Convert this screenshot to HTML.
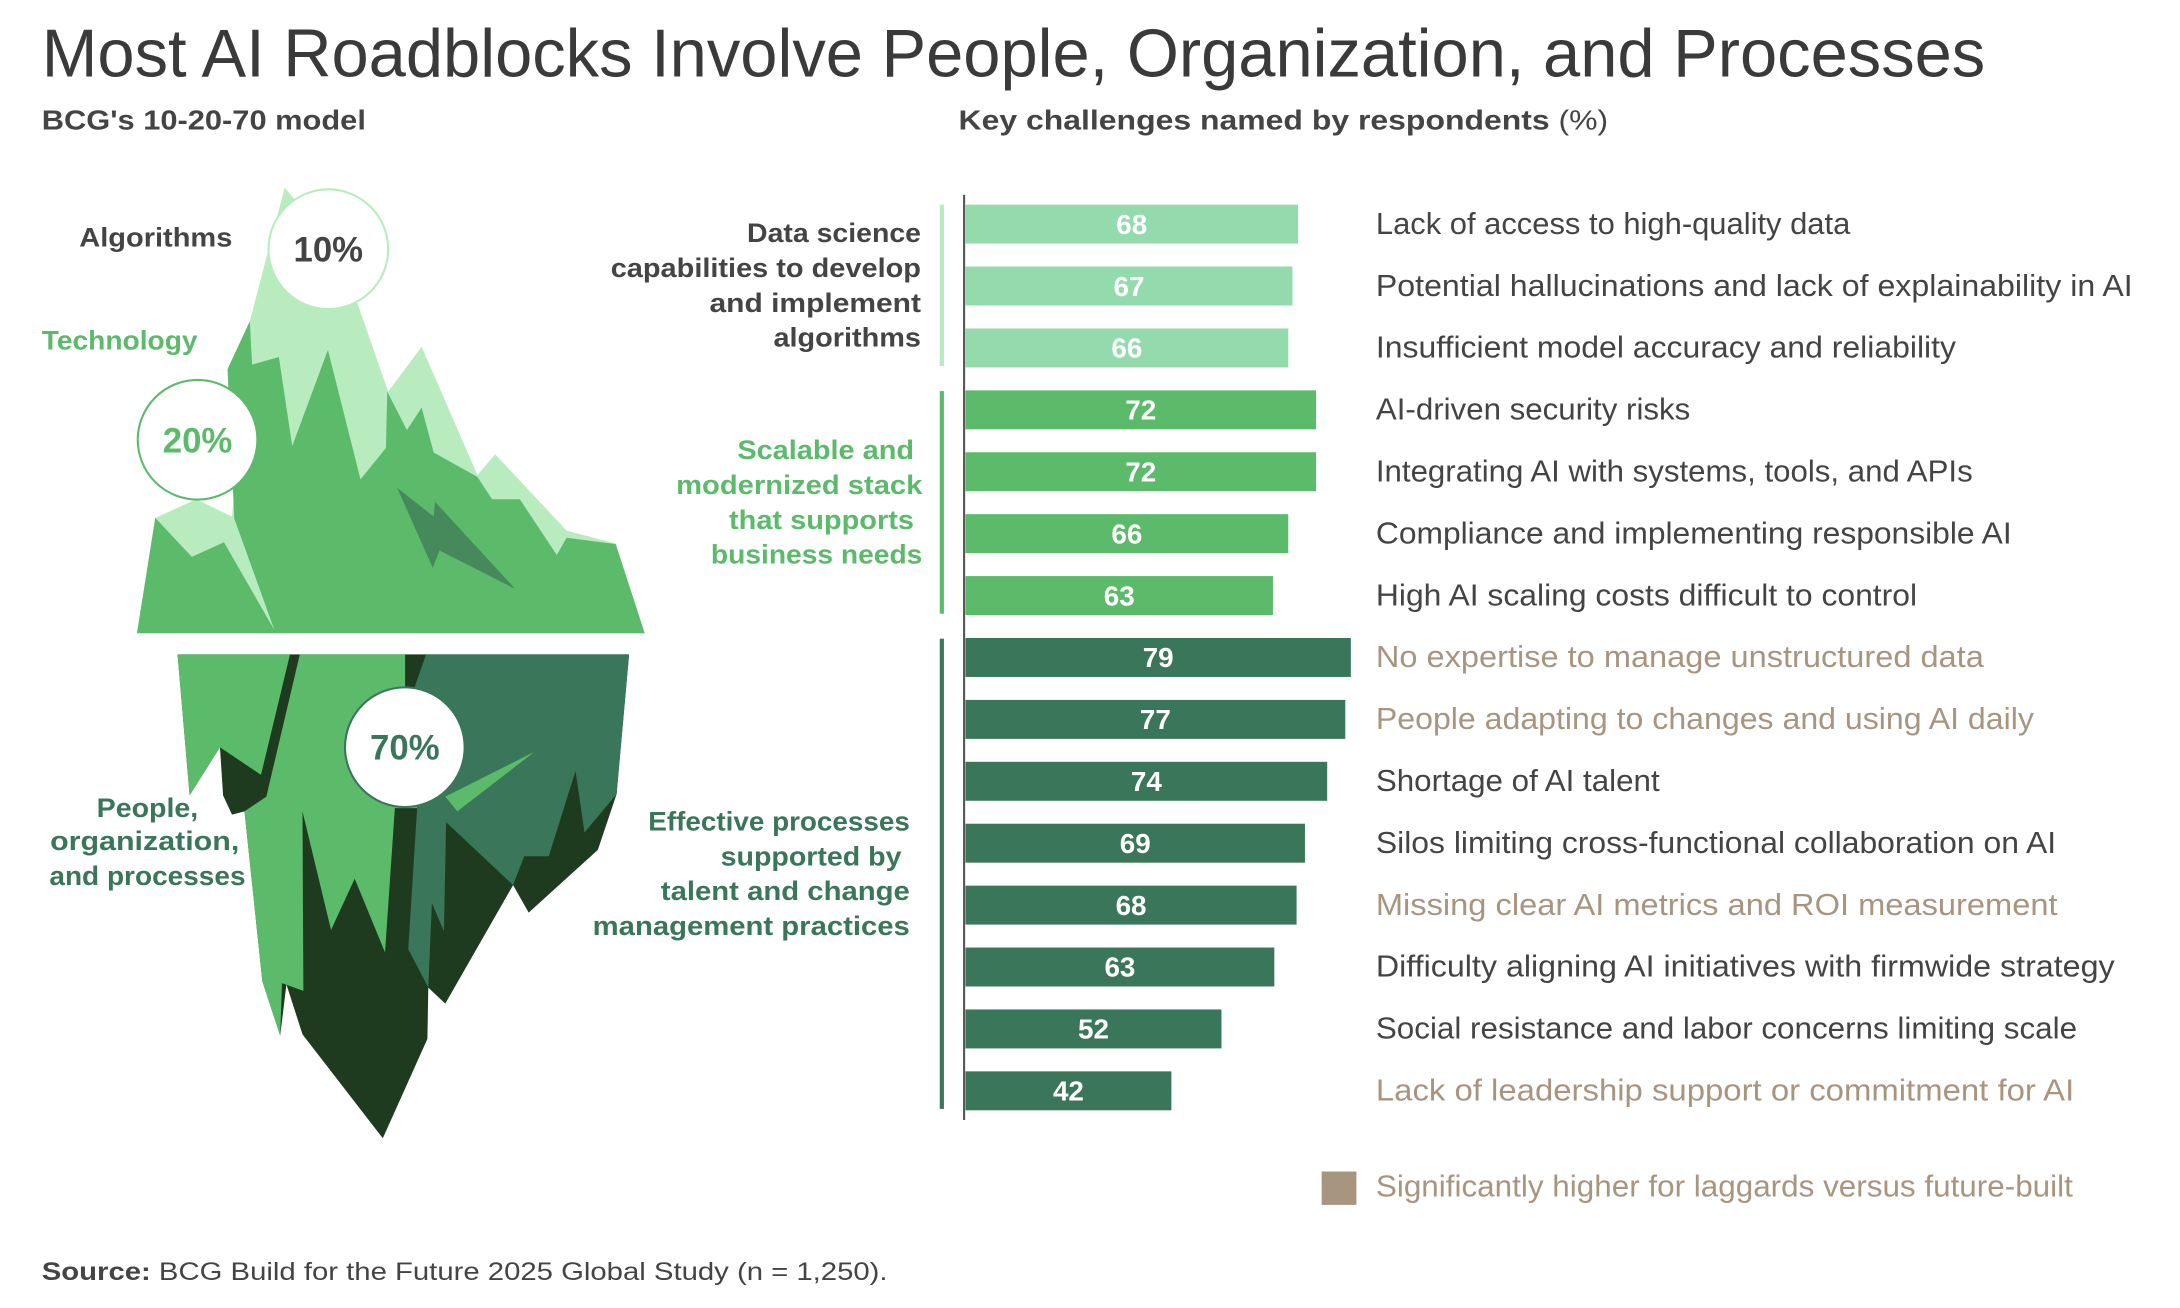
<!DOCTYPE html>
<html><head><meta charset="utf-8"><style>html,body{margin:0;padding:0;background:#fff}svg{display:block}</style></head><body>
<svg width="2180" height="1308" viewBox="0 0 1567 940" xmlns="http://www.w3.org/2000/svg" font-family="Liberation Sans, sans-serif">
<rect width="1567" height="940" fill="#fff"/>
<text x="30" y="55" font-size="49" fill="#3a3a3a" textLength="1397" lengthAdjust="spacingAndGlyphs">Most AI Roadblocks Involve People, Organization, and Processes</text>
<text x="30" y="93" font-size="20" font-weight="bold" fill="#444" textLength="233" lengthAdjust="spacingAndGlyphs">BCG's 10-20-70 model</text>
<text x="689" y="93" font-size="20" font-weight="bold" fill="#444" textLength="467" lengthAdjust="spacingAndGlyphs">Key challenges named by respondents <tspan font-weight="normal">(%)</tspan></text>

<!-- iceberg -->
<g transform="matrix(0.3207,0,0,0.4607,0,106.3)">
<polygon fill="#b8ecbe" points="348,577 440,548 520,575 560,270 638,62 660,80 800,240 870,380 945,310 1070,510 1110,478 1270,597 1380,617 1445,757 307,757"/>
<polygon fill="#5cba6b" points="307,757 348,577 430,638 502,615 615,752 525,578 510,345 560,270 565,338 625,326 655,465 735,315 808,517 865,468 868,380 912,440 945,405 972,475 1070,513 1103,548 1165,548 1248,635 1270,608 1380,618 1445,757"/>
<polygon fill="#46895a" points="890,530 972,575 975,552 1155,688 985,628 970,655"/>
<polygon fill="#1e3b20" points="398,790 1410,790 1382,1008 1340,1095 1185,1193 1150,1150 998,1335 960,1310 958,1390 858,1545 678,1383 642,1305 628,1385 588,1300 548,1035 520,1040 500,1010 493,935 425,1010"/>
<polygon fill="#5cba6b" points="398,790 650,790 585,978 493,935 425,1010"/>
<polygon fill="#5cba6b" points="672,790 908,790 908,838 935,1030 885,1030 863,1255 795,1140 742,1220 678,1035 680,1315 632,1303 628,1385 588,1300 548,1035 597,1012"/>
<polygon fill="#3a7659" points="955,790 1410,790 1382,1008 1310,1068 1290,972 1230,1105 1175,1105 1150,1150 1000,1052 995,1222 968,1178 960,1310 915,1250 935,1030 930,840"/>
<polygon fill="#5cba6b" points="998,1012 1198,942 1025,1035"/>
</g>
<circle cx="236" cy="179" r="43" fill="#fff" stroke="#b8ecbe" stroke-width="1.5"/>
<text x="236" y="188" font-size="25" font-weight="bold" fill="#444" text-anchor="middle">10%</text>
<circle cx="142" cy="316" r="43" fill="#fff" stroke="#5cba6b" stroke-width="1.5"/>
<text x="142" y="325" font-size="25" font-weight="bold" fill="#5cba6b" text-anchor="middle">20%</text>
<circle cx="291" cy="537" r="43" fill="#fff" stroke="#3a7659" stroke-width="1.5"/>
<text x="291" y="546" font-size="25" font-weight="bold" fill="#3a7659" text-anchor="middle">70%</text>

<g font-size="19" font-weight="bold">
<text x="57" y="177" fill="#444" textLength="110" lengthAdjust="spacingAndGlyphs">Algorithms</text>
<text x="30" y="251" fill="#5cba6b" textLength="112" lengthAdjust="spacingAndGlyphs">Technology</text>
<g fill="#3a7659" text-anchor="middle">
<text x="106" y="587" textLength="73" lengthAdjust="spacingAndGlyphs">People,</text>
<text x="104" y="611" textLength="136" lengthAdjust="spacingAndGlyphs">organization,</text>
<text x="106" y="636" textLength="141" lengthAdjust="spacingAndGlyphs">and processes</text>
</g>
<g text-anchor="end" fill="#444">
<text x="662" y="174" textLength="125" lengthAdjust="spacingAndGlyphs">Data science</text>
<text x="662" y="199" textLength="223" lengthAdjust="spacingAndGlyphs">capabilities to develop</text>
<text x="662" y="224" textLength="152" lengthAdjust="spacingAndGlyphs">and implement</text>
<text x="662" y="249" textLength="106" lengthAdjust="spacingAndGlyphs">algorithms</text>
</g>
<g text-anchor="end" fill="#5cba6b">
<text x="657" y="330" textLength="127" lengthAdjust="spacingAndGlyphs">Scalable and</text>
<text x="663" y="355" textLength="177" lengthAdjust="spacingAndGlyphs">modernized stack</text>
<text x="657" y="380" textLength="133" lengthAdjust="spacingAndGlyphs">that supports</text>
<text x="663" y="405" textLength="152" lengthAdjust="spacingAndGlyphs">business needs</text>
</g>
<g text-anchor="end" fill="#3a7659">
<text x="654" y="597" textLength="188" lengthAdjust="spacingAndGlyphs">Effective processes</text>
<text x="648" y="622" textLength="130" lengthAdjust="spacingAndGlyphs">supported by</text>
<text x="654" y="647" textLength="179" lengthAdjust="spacingAndGlyphs">talent and change</text>
<text x="654" y="672" textLength="228" lengthAdjust="spacingAndGlyphs">management practices</text>
</g>
</g>

<rect x="675.5" y="147" width="3" height="116" fill="#b8ecbe"/>
<rect x="675.5" y="281" width="3" height="160" fill="#5cba6b"/>
<rect x="675.5" y="459" width="3" height="338" fill="#3a7659"/>
<line x1="693" y1="140" x2="693" y2="805" stroke="#555" stroke-width="1.5"/>

<g font-size="20" font-weight="bold" fill="#fff" text-anchor="middle">
<rect x="694" y="147" width="239" height="28" fill="#93dbad"/><text x="813.5" y="168">68</text>
<rect x="694" y="191.5" width="235" height="28" fill="#93dbad"/><text x="811.5" y="212.5">67</text>
<rect x="694" y="236" width="232" height="28" fill="#93dbad"/><text x="810" y="257">66</text>
<rect x="694" y="280.5" width="252" height="28" fill="#5cba6b"/><text x="820" y="301.5">72</text>
<rect x="694" y="325" width="252" height="28" fill="#5cba6b"/><text x="820" y="346">72</text>
<rect x="694" y="369.5" width="232" height="28" fill="#5cba6b"/><text x="810" y="390.5">66</text>
<rect x="694" y="414" width="221" height="28" fill="#5cba6b"/><text x="804.5" y="435">63</text>
<rect x="694" y="458.5" width="277" height="28" fill="#3a7659"/><text x="832.5" y="479.5">79</text>
<rect x="694" y="503" width="273" height="28" fill="#3a7659"/><text x="830.5" y="524">77</text>
<rect x="694" y="547.5" width="260" height="28" fill="#3a7659"/><text x="824" y="568.5">74</text>
<rect x="694" y="592" width="244" height="28" fill="#3a7659"/><text x="816" y="613">69</text>
<rect x="694" y="636.5" width="238" height="28" fill="#3a7659"/><text x="813" y="657.5">68</text>
<rect x="694" y="681" width="222" height="28" fill="#3a7659"/><text x="805" y="702">63</text>
<rect x="694" y="725.5" width="184" height="28" fill="#3a7659"/><text x="786" y="746.5">52</text>
<rect x="694" y="770" width="148" height="28" fill="#3a7659"/><text x="768" y="791">42</text>
</g>

<g font-size="22">
<text x="989" y="168" fill="#444" textLength="341" lengthAdjust="spacingAndGlyphs">Lack of access to high-quality data</text>
<text x="989" y="212.5" fill="#444" textLength="544" lengthAdjust="spacingAndGlyphs">Potential hallucinations and lack of explainability in AI</text>
<text x="989" y="257" fill="#444" textLength="417" lengthAdjust="spacingAndGlyphs">Insufficient model accuracy and reliability</text>
<text x="989" y="301.5" fill="#444" textLength="226" lengthAdjust="spacingAndGlyphs">AI-driven security risks</text>
<text x="989" y="346" fill="#444" textLength="429" lengthAdjust="spacingAndGlyphs">Integrating AI with systems, tools, and APIs</text>
<text x="989" y="390.5" fill="#444" textLength="457" lengthAdjust="spacingAndGlyphs">Compliance and implementing responsible AI</text>
<text x="989" y="435" fill="#444" textLength="389" lengthAdjust="spacingAndGlyphs">High AI scaling costs difficult to control</text>
<text x="989" y="479.5" fill="#a89580" textLength="437" lengthAdjust="spacingAndGlyphs">No expertise to manage unstructured data</text>
<text x="989" y="524" fill="#a89580" textLength="473" lengthAdjust="spacingAndGlyphs">People adapting to changes and using AI daily</text>
<text x="989" y="568.5" fill="#444" textLength="204" lengthAdjust="spacingAndGlyphs">Shortage of AI talent</text>
<text x="989" y="613" fill="#444" textLength="489" lengthAdjust="spacingAndGlyphs">Silos limiting cross-functional collaboration on AI</text>
<text x="989" y="657.5" fill="#a89580" textLength="490" lengthAdjust="spacingAndGlyphs">Missing clear AI metrics and ROI measurement</text>
<text x="989" y="702" fill="#444" textLength="531" lengthAdjust="spacingAndGlyphs">Difficulty aligning AI initiatives with firmwide strategy</text>
<text x="989" y="746.5" fill="#444" textLength="504" lengthAdjust="spacingAndGlyphs">Social resistance and labor concerns limiting scale</text>
<text x="989" y="791" fill="#a89580" textLength="502" lengthAdjust="spacingAndGlyphs">Lack of leadership support or commitment for AI</text>
<rect x="950" y="842" width="25" height="24" fill="#a89580"/>
<text x="989" y="860" fill="#a89580" textLength="501" lengthAdjust="spacingAndGlyphs">Significantly higher for laggards versus future-built</text>
</g>
<text x="30" y="920" font-size="18" fill="#444" textLength="608" lengthAdjust="spacingAndGlyphs"><tspan font-weight="bold">Source:</tspan> BCG Build for the Future 2025 Global Study (n = 1,250).</text>
</svg>
</body></html>
